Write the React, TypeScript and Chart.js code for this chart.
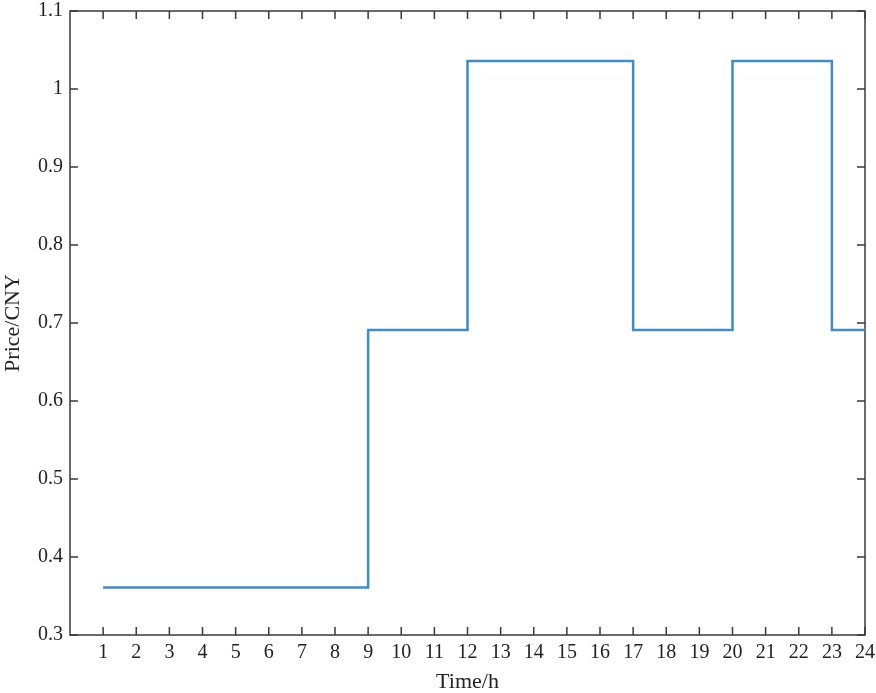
import React, { useEffect, useRef } from 'react';
import { Chart, registerables } from 'chart.js';

Chart.register(...registerables);

// hourly time-of-use price
const hours = [1, 2, 3, 4, 5, 6, 7, 8, 9, 10, 11, 12, 13, 14, 15, 16, 17, 18, 19, 20, 21, 22, 23, 24];
const price = [
  0.361, 0.361, 0.361, 0.361, 0.361, 0.361, 0.361, 0.361,
  0.691, 0.691, 0.691,
  1.036, 1.036, 1.036, 1.036, 1.036,
  0.691, 0.691, 0.691,
  1.036, 1.036, 1.036,
  0.691, 0.691
];
const yTicks = [0.3, 0.4, 0.5, 0.6, 0.7, 0.8, 0.9, 1, 1.1];

const AXIS_COLOR = '#3a3a3a';
const TEXT_COLOR = '#222';
const FONT = '"Liberation Serif", "Times New Roman", serif';

// MATLAB style box with inward ticks on all four sides
const boxTicks = {
  id: 'boxTicks',
  beforeDatasetsDraw(chart: any) {
    const { ctx, chartArea: a, scales } = chart;
    const len = 8;
    ctx.save();
    ctx.strokeStyle = AXIS_COLOR;
    ctx.lineWidth = 1.5;
    ctx.beginPath();
    scales.x.ticks.forEach((t: any) => {
      const px = scales.x.getPixelForValue(t.value);
      ctx.moveTo(px, a.bottom);
      ctx.lineTo(px, a.bottom - len);
      ctx.moveTo(px, a.top);
      ctx.lineTo(px, a.top + len);
    });
    scales.y.ticks.forEach((t: any) => {
      const py = scales.y.getPixelForValue(t.value);
      ctx.moveTo(a.left, py);
      ctx.lineTo(a.left + len, py);
      ctx.moveTo(a.right, py);
      ctx.lineTo(a.right - len, py);
    });
    ctx.stroke();
    ctx.strokeRect(a.left, a.top, a.right - a.left, a.bottom - a.top);
    ctx.restore();
  }
};

const App: React.FC = () => {
  const canvasRef = useRef<HTMLCanvasElement>(null);

  useEffect(() => {
    if (!canvasRef.current) return;
    const chart = new Chart(canvasRef.current, {
      type: 'line',
      data: {
        datasets: [
          {
            data: hours.map((h, i) => ({ x: h, y: price[i] })),
            borderColor: 'rgb(62, 140, 200)',
            borderWidth: 2.5,
            stepped: 'before',
            pointRadius: 0,
            fill: false
          }
        ]
      },
      options: {
        animation: false,
        responsive: false,
        layout: { padding: { top: 11, right: 11, left: 0, bottom: 0 } },
        plugins: {
          legend: { display: false },
          tooltip: { enabled: false }
        },
        scales: {
          x: {
            type: 'linear',
            min: 0,
            max: 24,
            afterBuildTicks: (scale: any) => {
              scale.ticks = hours.map((h) => ({ value: h }));
            },
            afterFit: (scale: any) => {
              scale.height = 58;
              scale.paddingLeft = 0;
              scale.paddingRight = 0;
            },
            grid: { display: false, drawTicks: false },
            border: { display: false },
            ticks: {
              autoSkip: false,
              maxRotation: 0,
              padding: 6,
              color: TEXT_COLOR,
              font: { family: FONT, size: 20 }
            },
            title: {
              display: true,
              text: 'Time/h',
              color: TEXT_COLOR,
              padding: 0,
              font: { family: FONT, size: 22, lineHeight: 1 }
            }
          },
          y: {
            type: 'linear',
            min: 0.3,
            max: 1.1,
            afterBuildTicks: (scale: any) => {
              scale.ticks = yTicks.map((v) => ({ value: v }));
            },
            afterFit: (scale: any) => {
              scale.width = 70;
              scale.paddingTop = 0;
              scale.paddingBottom = 0;
            },
            grid: { display: false, drawTicks: false },
            border: { display: false },
            ticks: {
              padding: 7,
              color: TEXT_COLOR,
              font: { family: FONT, size: 20 },
              callback: (v: any) => String(Number(Number(v).toFixed(1)))
            },
            title: {
              display: true,
              text: 'Price/CNY',
              color: TEXT_COLOR,
              padding: { top: 2, bottom: 0 },
              font: { family: FONT, size: 22, lineHeight: 1 }
            }
          }
        }
      },
      plugins: [boxTicks]
    });

    return () => {
      chart.destroy();
    };
  }, []);

  return (
    <div style={{ position: 'absolute', left: 0, top: 0, width: 876, height: 693, background: '#fff' }}>
      <canvas ref={canvasRef} width={876} height={693} style={{ width: 876, height: 693 }}></canvas>
    </div>
  );
};

export default App;
